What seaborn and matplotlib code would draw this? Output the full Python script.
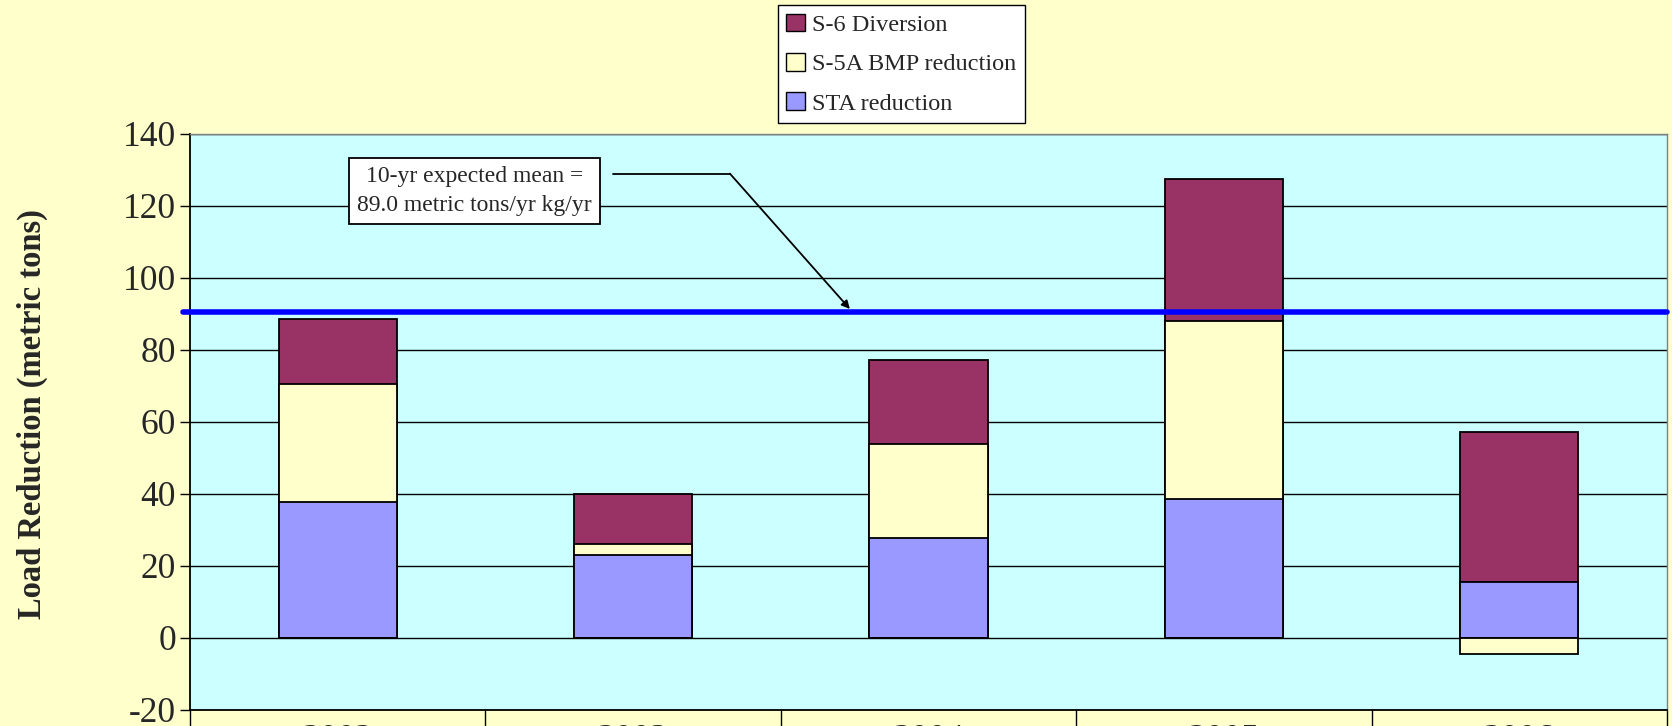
import matplotlib
matplotlib.use("Agg")
import matplotlib.pyplot as plt
import seaborn as sns
import numpy as np
from matplotlib.patches import Patch
from matplotlib.ticker import FixedLocator

# ---- data ----
years = ["2002", "2003", "2004", "2005", "2006"]
sta_reduction = [37.6, 23.1, 27.6, 38.5, 15.4]
bmp_reduction = [32.9, 3.0, 26.3, 49.5, -4.5]
s6_diversion = [18.1, 13.9, 23.1, 39.4, 41.7]
expected_mean = 90.5
series_labels = ["S-6 Diversion", "S-5A BMP reduction", "STA reduction"]
annotation_text = "10-yr expected mean =\n89.0 metric tons/yr kg/yr"
y_label = "Load Reduction (metric tons)"
y_ticks = [-20, 0, 20, 40, 60, 80, 100, 120, 140]

# colours
c_s6 = "#993366"
c_bmp = "#FFFFCC"
c_sta = "#9999FF"
bg_fig = "#FFFFCC"
bg_ax = "#CCFFFF"

sns.set_style("white")
plt.rcParams["font.family"] = ["Liberation Serif", "DejaVu Serif"]

sta = np.array(sta_reduction)
bmp = np.array(bmp_reduction)
s6 = np.array(s6_diversion)
bmp_pos = np.clip(bmp, 0, None)
bmp_neg = np.clip(bmp, None, 0)
sta_top = sta
bmp_top = sta + bmp_pos
s6_top = bmp_top + s6

fig = plt.figure(figsize=(16.72, 7.26), dpi=100, facecolor=bg_fig)
ax = fig.add_axes([0.1136, 0.02245, 0.8834, 0.7934])
ax.set_facecolor(bg_ax)

common = dict(width=0.4, edgecolor="black", linewidth=1.3, saturation=1,
              errorbar=None, ax=ax, zorder=3)
sns.barplot(x=years, y=list(s6_top), color=c_s6, **common)
sns.barplot(x=years, y=list(bmp_top), color=c_bmp, **common)
sns.barplot(x=years, y=list(sta_top), color=c_sta, **common)
sns.barplot(x=years, y=list(bmp_neg), color=c_bmp, **common)

ax.set_xlim(-0.5, len(years) - 0.5)
ax.set_ylim(-20, 140)
ax.set_yticks(y_ticks)
ax.set_yticklabels([str(t) for t in y_ticks], fontsize=25.5)
ax.yaxis.grid(True, color="black", linewidth=1.0, zorder=0)
ax.set_axisbelow(True)
ax.tick_params(axis="y", direction="out", length=7, width=1, color="black", pad=3, left=True)

# x axis: labels at category centres, long separators at boundaries
ax.set_xticks(range(len(years)))
ax.set_xticklabels(years, fontsize=25.5)
ax.tick_params(axis="x", which="major", length=0, pad=10, bottom=True)
ax.xaxis.set_minor_locator(FixedLocator(np.arange(-0.5, len(years), 1.0)))
ax.tick_params(axis="x", which="minor", length=30, width=1, color="black", direction="out", bottom=True)
ax.set_xlabel("")

ax.set_ylabel(y_label, fontsize=23.5, fontweight="bold")
ax.yaxis.set_label_coords(-0.096, 0.514)

for side in ["left", "bottom"]:
    ax.spines[side].set_color("black")
    ax.spines[side].set_linewidth(1.3)
for side in ["top", "right"]:
    ax.spines[side].set_color("#808080")
    ax.spines[side].set_linewidth(1.0)

# expected mean line
ax.axhline(expected_mean, xmin=-0.005, xmax=1.0, color="#0000FF", linewidth=4,
           zorder=5, clip_on=False)

# annotation box and leader line
ax.text(0.463, 124.1, annotation_text, ha="center", va="center", fontsize=17,
        linespacing=1.45, zorder=6,
        bbox=dict(boxstyle="square,pad=0.35", facecolor="white", edgecolor="black", linewidth=1.3))
ax.plot([0.932, 1.328], [128.9, 128.9], color="black", linewidth=1.3, zorder=6)
ax.annotate("", xy=(1.734, 91.3), xytext=(1.328, 128.9),
            arrowprops=dict(arrowstyle="-|>", color="black", lw=1.3,
                            mutation_scale=12, shrinkA=0, shrinkB=0), zorder=6)

# legend
handles = [Patch(facecolor=c_s6, edgecolor="black", linewidth=1),
           Patch(facecolor=c_bmp, edgecolor="black", linewidth=1),
           Patch(facecolor=c_sta, edgecolor="black", linewidth=1)]
leg = fig.legend(handles, series_labels, loc="upper left",
                 bbox_to_anchor=(0.4653, 0.9931), fontsize=17.5, frameon=True,
                 fancybox=False, framealpha=1, edgecolor="black",
                 handlelength=0.75, handleheight=0.75, handletextpad=0.3,
                 labelspacing=0.7, borderpad=0.35, borderaxespad=0)
leg.get_frame().set_linewidth(1.0)
leg.get_frame().set_facecolor("white")

fig.savefig("out.png", dpi=100, facecolor=bg_fig)
